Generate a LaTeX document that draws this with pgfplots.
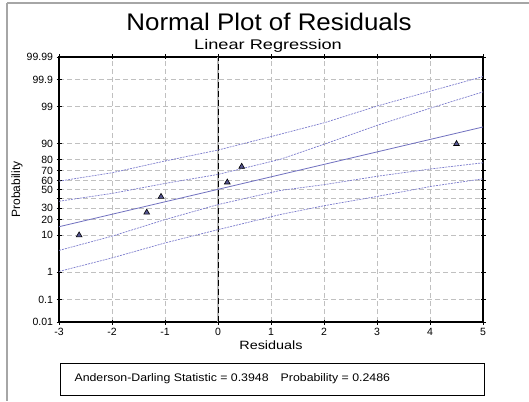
\documentclass[border=0pt]{standalone}
\usepackage{fontspec}
\setmainfont{Liberation Sans}
\newfontfamily\titlefont[FakeStretch=1.08]{Liberation Sans}
\newfontfamily\subfont[FakeStretch=1.3]{Liberation Sans}
\newfontfamily\labfont[FakeStretch=1.2]{Liberation Sans}
\newfontfamily\boxfont[FakeStretch=1.12]{Liberation Sans}
\usepackage{pgfplots}
\pgfplotsset{compat=1.18}

\definecolor{fitline}{RGB}{110,110,190}
\definecolor{bandline}{RGB}{125,125,205}
\definecolor{gridgray}{RGB}{192,192,192}
\definecolor{markfill}{RGB}{85,85,145}

\begin{document}
\begin{tikzpicture}[x=1pt,y=1pt]
\path[use as bounding box] (0,0) rectangle (529,-401);
\draw[gray!70, line width=1.5pt] (7,-3) -- (7,-401);
\draw[gray!70, line width=1.5pt] (7,-3) -- (529,-3);
\node[font=\titlefont\fontsize{24}{26}\selectfont] at (269,-22) {Normal Plot of Residuals};
\node[font=\subfont\fontsize{14}{16}\selectfont] at (268,-46) {Linear Regression};

\begin{axis}[
  at={(59pt,-322pt)}, anchor=south west,
  scale only axis, width=424pt, height=265pt,
  xmin=-3, xmax=5, ymin=-3.719, ymax=3.719,
  xtick={-3,...,5},
  ytick={-3.719,-3.090,-2.326,-1.2816,-0.8416,-0.5244,-0.2533,0,0.2533,0.5244,0.8416,1.2816,2.326,3.090,3.719},
  yticklabels={0.01,0.1,1,10,20,30,,50,60,70,80,90,99,99.9,99.99},
  grid=major,
  major grid style={gridgray, line width=0.8pt, dash pattern=on 5pt off 3pt},
  axis line style={black, line width=1.2pt},
  tick style={black, line width=0.8pt},
  tick align=center, major tick length=5pt,
  ticklabel style={font=\fontsize{10.5}{12}\selectfont},
  /pgf/number format/assume math mode=true,
  xlabel={Residuals}, ylabel={Probability},
  xlabel style={font=\labfont\fontsize{12}{14}\selectfont, at={(axis description cs:0.5,-0.087)}, anchor=center},
  ylabel style={font=\fontsize{12}{14}\selectfont, at={(axis description cs:-0.099,0.5)}, anchor=center},
  clip=true,
]
% zero reference line
\addplot[gray!55, line width=2.5pt] coordinates {(0,-3.719) (0,3.719)};
\addplot[black, line width=1pt, dash pattern=on 6pt off 3pt] coordinates {(0,-3.719) (0,3.719)};

% confidence bands (outer and inner)
\addplot[bandline, line width=0.7pt, dash pattern=on 2pt off 1pt] coordinates {
  (-3,0.234) (-2,0.47) (-1,0.80) (0,1.107) (1.17,1.55) (2.02,1.88) (3.02,2.35) (4.03,2.77) (5,3.17)};
\addplot[bandline, line width=0.7pt, dash pattern=on 2pt off 1pt] coordinates {
  (-3,-0.33) (-2,-0.11) (-1,0.17) (0,0.423) (1.17,0.845) (2,1.27) (3,1.80) (4,2.28) (5,2.74)};
\addplot[bandline, line width=0.7pt, dash pattern=on 2pt off 1pt] coordinates {
  (-3,-1.71) (-2,-1.31) (-1,-0.845) (0,-0.423) (1.17,-0.028) (2.02,0.14) (3.02,0.375) (4.03,0.58) (5,0.75)};
\addplot[bandline, line width=0.7pt, dash pattern=on 2pt off 1pt] coordinates {
  (-3,-2.30) (-2,-1.92) (-1,-1.50) (0,-1.127) (1.17,-0.704) (2.02,-0.45) (3.02,-0.19) (4.03,0.09) (5,0.30)};

% fitted line
\addplot[fitline, line width=0.8pt] coordinates {(-3,-1.045) (5,1.755)};

% residuals
\addplot[only marks, mark=triangle*, mark size=3.3pt,
  mark options={fill=markfill, draw=black, line width=0.6pt}] coordinates {
  (-2.62,-1.2816) (-1.345,-0.643) (-1.075,-0.2019) (0.175,0.2019) (0.447,0.643) (4.50,1.2816)};
\end{axis}

\draw[black, line width=0.8pt] (60,-363) rectangle (484,-395);
\node[anchor=west, font=\boxfont\fontsize{11}{13}\selectfont] at (71,-379)
  {Anderson-Darling Statistic = 0.3948\hspace{1.1em}Probability = 0.2486};
\end{tikzpicture}
\end{document}
